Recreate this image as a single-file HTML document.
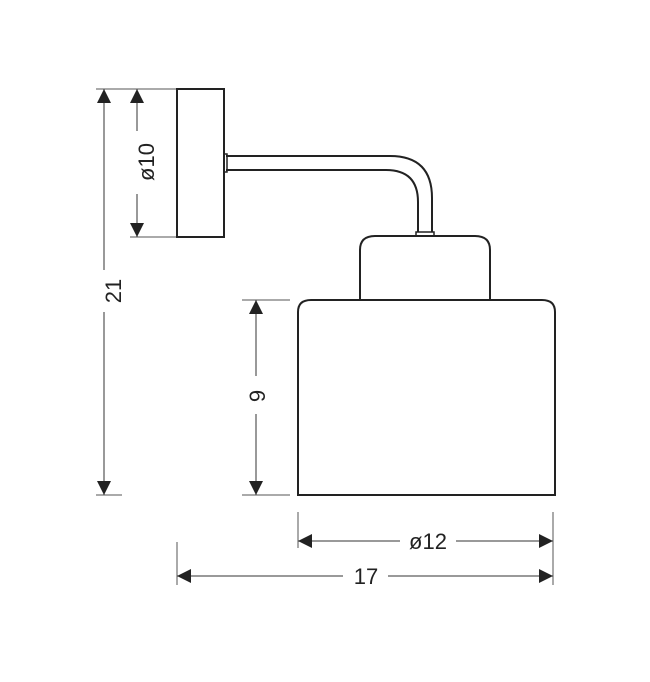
<!DOCTYPE html>
<html><head><style>body{margin:0;background:#fff}</style></head><body>
<svg width="650" height="677" xmlns="http://www.w3.org/2000/svg" font-family="Liberation Sans, sans-serif" font-size="22" fill="#222">
<defs>
<marker id="a" viewBox="0 0 10 10" refX="10" refY="5" markerWidth="14" markerHeight="14" orient="auto-start-reverse" markerUnits="userSpaceOnUse"><path d="M0,0L10,5L0,10z" fill="#222"/></marker>
</defs>
<g stroke="#222" fill="none" stroke-width="2">
<rect x="177" y="89" width="47" height="148"/>
<path d="M226,156 H390 Q432,156 432,198 V232 M226,170 H386 Q418,170 418,202 V232"/>
<rect x="224" y="154" width="3" height="18" stroke-width="1.5"/>
<rect x="416" y="232" width="18" height="4" stroke-width="1.5"/>
<path d="M360,300 V250 Q360,236 375,236 H475 Q490,236 490,250 V300"/>
<path d="M298,495 V312 Q298,300 311,300 H542 Q555,300 555,312 V495 Z"/>
</g>
<g stroke="#555" stroke-width="1" fill="none">
<path d="M96,89 H176 M96,495 H122 M130,237 H176 M242,300 H290 M242,495 H290 M298,512 V548 M553,512 V585 M177,542 V585"/>
</g>
<g stroke="#333" stroke-width="1" fill="none">
<line x1="104" y1="89" x2="104" y2="270" marker-start="url(#a)"/>
<line x1="104" y1="312" x2="104" y2="495" marker-end="url(#a)"/>
<line x1="137" y1="89" x2="137" y2="131" marker-start="url(#a)"/>
<line x1="137" y1="194" x2="137" y2="237" marker-end="url(#a)"/>
<line x1="256" y1="300" x2="256" y2="376" marker-start="url(#a)"/>
<line x1="256" y1="414" x2="256" y2="495" marker-end="url(#a)"/>
<line x1="298" y1="541" x2="400" y2="541" marker-start="url(#a)"/>
<line x1="456" y1="541" x2="553" y2="541" marker-end="url(#a)"/>
<line x1="177" y1="576" x2="343" y2="576" marker-start="url(#a)"/>
<line x1="388" y1="576" x2="553" y2="576" marker-end="url(#a)"/>
</g>
<text transform="translate(121,291) rotate(-90)" text-anchor="middle">21</text>
<text transform="translate(154,162) rotate(-90)" text-anchor="middle">ø10</text>
<text transform="translate(265,396) rotate(-90)" text-anchor="middle">9</text>
<text x="428" y="549" text-anchor="middle">ø12</text>
<text x="366" y="584" text-anchor="middle">17</text>
</svg>
</body></html>
